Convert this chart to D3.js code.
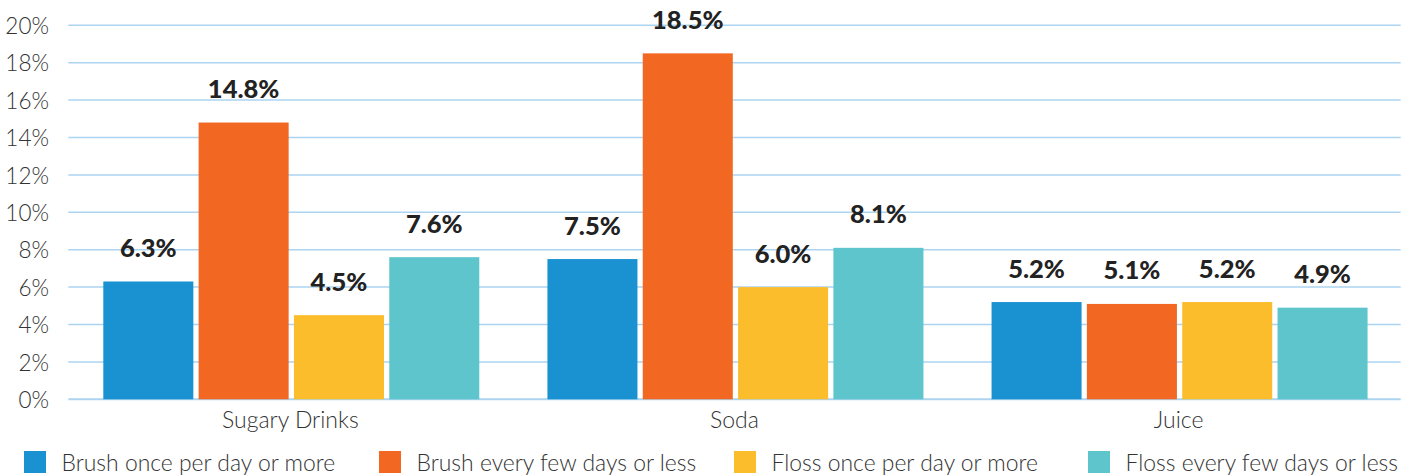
<!DOCTYPE html>
<html><head><meta charset="utf-8">
<script src="https://cdn.jsdelivr.net/npm/d3@7"></script>
<style>
body{margin:0;background:#fff;}
svg{display:block;}
</style></head>
<body>
<svg id="chart" width="1419" height="476"></svg>
<script>
const categories = ["Sugary Drinks", "Soda", "Juice"];
const seriesNames = ["Brush once per day or more", "Brush every few days or less", "Floss once per day or more", "Floss every few days or less"];
const brushDaily = [6.3, 7.5, 5.2];
const brushRarely = [14.8, 18.5, 5.1];
const flossDaily = [4.5, 6.0, 5.2];
const flossRarely = [7.6, 8.1, 4.9];
const yTicks = [0, 2, 4, 6, 8, 10, 12, 14, 16, 18, 20];
const colors = ["#1a92d2", "#f26722", "#fcbd2d", "#5dc5cb"];

const seriesValues = [brushDaily, brushRarely, flossDaily, flossRarely];

const svg = d3.select("#chart");
const mLeft = 68.3, mRight = 1400.7, mTop = 25.3, mBottom = 399.3;

const y = d3.scaleLinear().domain([0, 20]).range([mBottom, mTop]);
const x0 = d3.scaleBand().domain(categories).range([mLeft, mRight]).padding(0);
const x1 = d3.scaleBand().domain(seriesNames).range([35, 411]).paddingInner(0.0556).paddingOuter(0);

// grid
const grid = svg.append("g");
grid.selectAll("line").data(yTicks).join("line")
  .attr("x1", mLeft).attr("x2", mRight)
  .attr("y1", d => y(d)).attr("y2", d => y(d))
  .attr("stroke", "#acd4f1").attr("stroke-width", d => d === 0 ? 2 : 1.5);

// y axis labels
const yAxis = d3.axisLeft(y).tickValues(yTicks).tickFormat(d => d + "%").tickSize(0).tickPadding(0);
const ya = svg.append("g").attr("transform", `translate(49,0)`).call(yAxis);
ya.select(".domain").remove();
ya.selectAll("text").attr("font-family", "Lato, 'Open Sans', sans-serif").attr("font-size", 22.5)
  .attr("font-weight", 300).attr("fill", "#333").attr("dy", "0.36em");

// bars
const groups = svg.append("g").selectAll("g").data(categories).join("g")
  .attr("transform", d => `translate(${x0(d)},0)`);

groups.each(function(cat, ci) {
  const g = d3.select(this);
  const rows = seriesNames.map((s, si) => ({s, si, v: seriesValues[si][ci]}));
  g.selectAll("rect").data(rows).join("rect")
    .attr("x", d => x1(d.s)).attr("width", x1.bandwidth())
    .attr("y", d => y(d.v)).attr("height", d => y(0) - y(d.v))
    .attr("fill", d => colors[d.si]);
  g.selectAll("text").data(rows).join("text")
    .attr("x", d => x1(d.s) + x1.bandwidth() / 2)
    .attr("y", d => y(d.v) - 24.5)
    .attr("text-anchor", "middle")
    .attr("font-family", "Lato, sans-serif").attr("font-weight", 900)
    .attr("font-size", 25.5).attr("fill", "#222")
    .text(d => d.v.toFixed(1) + "%");
});

// x axis labels
const xAxis = d3.axisBottom(x0).tickSize(0).tickPadding(0);
const xa = svg.append("g").attr("transform", `translate(0,${mBottom})`).call(xAxis);
xa.select(".domain").remove();
xa.selectAll("text").attr("font-family", "Lato, 'Open Sans', sans-serif").attr("font-size", 23)
  .attr("font-weight", 300).attr("fill", "#333").attr("dy", null).attr("y", 29);

// legend
const legendX = [24, 379, 734, 1088];
const leg = svg.append("g").selectAll("g").data(seriesNames).join("g")
  .attr("transform", (d, i) => `translate(${legendX[i]},451)`);
leg.append("rect").attr("width", 22).attr("height", 22).attr("fill", (d, i) => colors[i]);
leg.append("text").attr("x", 37.5).attr("y", 19.5)
  .attr("font-family", "Lato, 'Open Sans', sans-serif").attr("font-size", 22.9)
  .attr("font-weight", 300).attr("fill", "#333").text(d => d);
</script>
</body></html>
